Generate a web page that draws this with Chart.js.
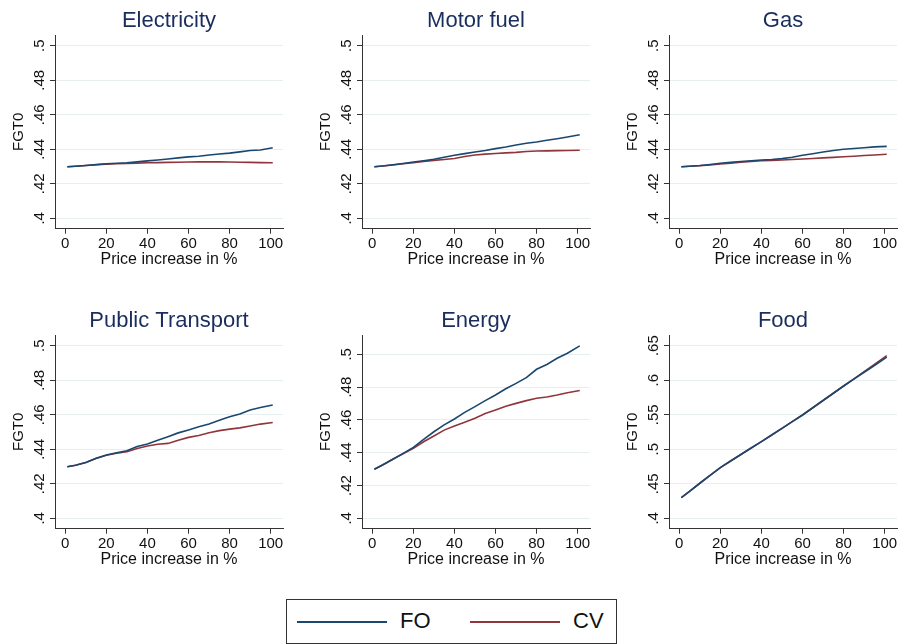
<!DOCTYPE html>
<html>
<head>
<meta charset="utf-8">
<script src="https://cdn.jsdelivr.net/npm/chart.js@4.4.1/dist/chart.umd.min.js"></script>
<style>
  html, body { margin: 0; padding: 0; background: #fff; }
  body { width: 899px; height: 644px; overflow: hidden; position: relative;
         font-family: 'Liberation Sans', Arial, sans-serif; }
  canvas { position: absolute; }
  #legend { position: absolute; left: 286px; top: 599px; width: 331px; height: 45px;
            box-sizing: border-box; border: 1px solid #333; background: #fff; }
  #legend .ln { position: absolute; top: 21px; width: 90px; height: 2px; }
  #legend .tx { position: absolute; top: 7px; font-size: 22px; line-height: 28px; color: #111; }
</style>
</head>
<body>
<div id="legend"></div>
<script>
// x values (price increase in %)
const xs = [1, 5, 10, 15, 20, 25, 30, 35, 40, 45, 50, 55, 60, 65, 70, 75, 80, 85, 90, 95, 101];
const xTicks = [0, 20, 40, 60, 80, 100];

const seriesNames = ['FO', 'CV'];
const seriesColors = ['#1a476f', '#90353b'];

const titles = ['Electricity', 'Motor fuel', 'Gas', 'Public Transport', 'Energy', 'Food'];

// FGT0 readings
const electricityFO = [.4299, .4302, .4306, .4311, .4316, .4319, .4322, .4327, .4333, .4338, .4344, .4350, .4356, .4360, .4367, .4373, .4378, .4385, .4393, .4396, .4409];
const electricityCV = [.4299, .4302, .4306, .4310, .4314, .4316, .4318, .4320, .4322, .4323, .4324, .4325, .4326, .4327, .4328, .4327, .4326, .4325, .4324, .4323, .4322];

const motorFO = [.4299, .4303, .4310, .4318, .4326, .4334, .4342, .4354, .4365, .4375, .4384, .4393, .4404, .4413, .4425, .4435, .4442, .4452, .4461, .4471, .4484];
const motorCV = [.4299, .4303, .4309, .4316, .4322, .4330, .4336, .4341, .4347, .4358, .4367, .4372, .4376, .4379, .4382, .4387, .4390, .4391, .4392, .4393, .4394];

const gasFO = [.4299, .4302, .4306, .4312, .4319, .4324, .4329, .4334, .4338, .4341, .4346, .4354, .4365, .4374, .4384, .4393, .4400, .4405, .4409, .4414, .4417];
const gasCV = [.4299, .4302, .4305, .4309, .4315, .4320, .4325, .4330, .4334, .4336, .4338, .4341, .4344, .4347, .4350, .4353, .4357, .4360, .4364, .4367, .4371];

const transportFO = [.4299, .4308, .4324, .4348, .4367, .4380, .4392, .4416, .4431, .4452, .4473, .4495, .4512, .4530, .4546, .4568, .4589, .4604, .4627, .4642, .4657];
const transportCV = [.4299, .4308, .4324, .4347, .4365, .4377, .4386, .4404, .4419, .4429, .4434, .4452, .4469, .4480, .4496, .4508, .4517, .4524, .4535, .4546, .4555];

const energyFO = [.4299, .4325, .4360, .4396, .4433, .4481, .4528, .4570, .4606, .4646, .4681, .4718, .4752, .4790, .4823, .4858, .4909, .4938, .4976, .5007, .5052];
const energyCV = [.4299, .4325, .4360, .4393, .4427, .4467, .4502, .4538, .4563, .4586, .4610, .4639, .4661, .4683, .4701, .4718, .4732, .4740, .4752, .4766, .4780];

const foodFO = [.4299, .4392, .4508, .4622, .4735, .4830, .4924, .5018, .5110, .5207, .5303, .5400, .5496, .5601, .5706, .5811, .5916, .6015, .6115, .6213, .6335];
const foodCV = [.4299, .4392, .4508, .4622, .4735, .4830, .4924, .5018, .5110, .5207, .5303, .5400, .5496, .5601, .5706, .5811, .5916, .6020, .6125, .6228, .6355];

const yTicksStd = [.4, .42, .44, .46, .48, .5];
const yTicksFood = [.4, .45, .5, .55, .6, .65];

const panelData = [
  [electricityFO, electricityCV], [motorFO, motorCV], [gasFO, gasCV],
  [transportFO, transportCV], [energyFO, energyCV], [foodFO, foodCV]
];
const panelTicks = [yTicksStd, yTicksStd, yTicksStd, yTicksStd, yTicksStd, yTicksFood];
const panelRange = [[.394, .5062], [.394, .5062], [.394, .5062], [.394, .5062], [.3937, .5118], [.385, .6654]];

// canvas positions (left of y-axis box, top of panel)
const boxes = [[0, 0], [307, 0], [614, 0], [0, 300], [307, 300], [614, 300]];

Chart.defaults.font.family = "'Liberation Sans', Arial, sans-serif";

// panel title centred over plot area
const panelTitle = {
  id: 'panelTitle',
  afterDraw(chart, args, opts) {
    const { ctx, chartArea } = chart;
    ctx.save();
    ctx.font = "22px 'Liberation Sans', Arial, sans-serif";
    ctx.fillStyle = '#1a2e5e';
    ctx.textAlign = 'center';
    ctx.textBaseline = 'alphabetic';
    ctx.fillText(opts.text, (chartArea.left + chartArea.right) / 2, 26.5);
    ctx.restore();
  }
};

const fmt = v => String(+v.toFixed(2)).replace(/^0\./, '.');

titles.forEach((t, p) => {
  const cv = document.createElement('canvas');
  cv.width = 338;
  cv.height = 280;
  cv.style.left = boxes[p][0] + 'px';
  cv.style.top = boxes[p][1] + 'px';
  document.body.appendChild(cv);

  new Chart(cv, {
    type: 'line',
    data: {
      datasets: seriesNames.map((name, s) => ({
        label: name,
        data: xs.map((x, i) => ({ x: x, y: panelData[p][s][i] })),
        borderColor: seriesColors[s],
        borderWidth: 1.6,
        pointRadius: 0,
        tension: 0,
        fill: false
      }))
    },
    options: {
      responsive: false,
      animation: false,
      layout: { padding: { top: 35, left: 0, right: 55, bottom: 0 } },
      plugins: {
        legend: { display: false },
        tooltip: { enabled: false },
        panelTitle: { text: t }
      },
      scales: {
        x: {
          type: 'linear',
          min: -5,
          max: 106,
          afterBuildTicks: s => { s.ticks = xTicks.map(v => ({ value: v })); },
          afterFit: s => { s.height = 51.3; s.paddingLeft = 0; s.paddingRight = 0; },
          grid: { drawOnChartArea: false, drawTicks: true, tickLength: 5, tickColor: '#333' },
          border: { color: '#333', width: 1 },
          ticks: { font: { size: 15 }, color: '#111', padding: 1, maxRotation: 0, autoSkip: false },
          title: { display: true, text: 'Price increase in %', font: { size: 16 }, color: '#111',
                   padding: { top: 0, bottom: 10.4 } }
        },
        y: {
          min: panelRange[p][0],
          max: panelRange[p][1],
          afterBuildTicks: s => { s.ticks = panelTicks[p].map(v => ({ value: v })); },
          afterFit: s => { s.width = 55; s.paddingTop = 0; s.paddingBottom = 0; },
          grid: { color: '#e6eef0', lineWidth: 1, drawTicks: true, tickLength: 5, tickColor: '#333' },
          border: { color: '#333', width: 1 },
          ticks: { font: { size: 15 }, color: '#111', padding: 0, minRotation: 90, maxRotation: 90,
                   crossAlign: 'center', autoSkip: false, callback: v => fmt(v) },
          title: { display: true, text: 'FGT0', font: { size: 15 }, color: '#111',
                   padding: { top: 10, bottom: 0 } }
        }
      }
    },
    plugins: [panelTitle]
  });
});

// legend
const lg = document.getElementById('legend');
const lineLeft = [10, 183];
const textLeft = [113, 286];
seriesNames.forEach((name, s) => {
  const ln = document.createElement('div');
  ln.className = 'ln';
  ln.style.left = lineLeft[s] + 'px';
  ln.style.background = seriesColors[s];
  lg.appendChild(ln);
  const tx = document.createElement('div');
  tx.className = 'tx';
  tx.style.left = textLeft[s] + 'px';
  tx.textContent = name;
  lg.appendChild(tx);
});
</script>
</body>
</html>
